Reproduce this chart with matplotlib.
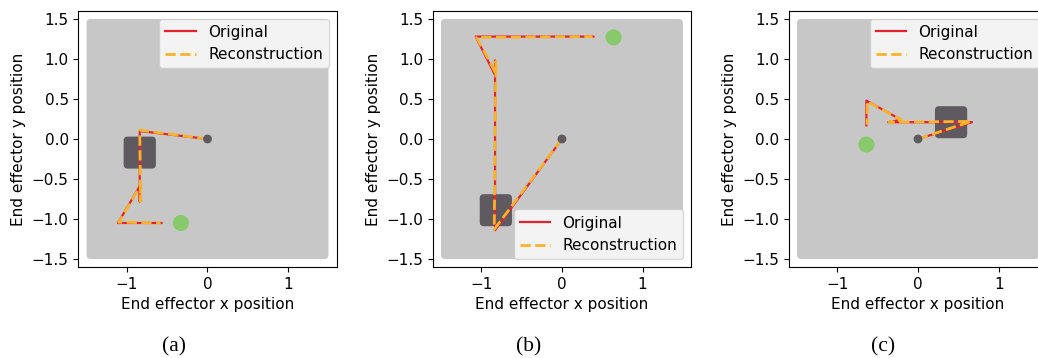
import matplotlib.pyplot as plt
from matplotlib.patches import FancyBboxPatch, Circle

# end effector paths (x, y) for the three episodes
orig_a_x = [0.0, -0.84, -0.84, -0.84, -1.11, -0.57]
orig_a_y = [0.0, 0.10, -0.78, -0.59, -1.05, -1.05]
recon_a_x = [0.0, -0.84, -0.83, -0.83, -1.10, -0.58]
recon_a_y = [0.0, 0.11, -0.78, -0.58, -1.04, -1.05]

orig_b_x = [0.0, -0.83, -0.83, -0.83, -1.07, 0.39]
orig_b_y = [0.0, -1.14, 0.98, 0.80, 1.28, 1.28]
recon_b_x = [0.0, -0.84, -0.82, -0.82, -1.06, 0.38]
recon_b_y = [0.0, -1.13, 0.97, 0.82, 1.27, 1.28]

orig_c_x = [0.0, 0.67, -0.37, -0.21, -0.64, -0.64]
orig_c_y = [0.0, 0.21, 0.21, 0.24, 0.48, 0.17]
recon_c_x = [0.0, 0.66, -0.36, -0.21, -0.63, -0.63]
recon_c_y = [0.0, 0.22, 0.21, 0.24, 0.47, 0.18]

# obstacle centres and goal positions
obstacles = [(-0.84, -0.17), (-0.82, -0.89), (0.41, 0.21)]
goals = [(-0.33, -1.05), (0.64, 1.27), (-0.64, -0.07)]
legend_locs = ["upper right", "lower right", "upper right"]
captions = ["(a)", "(b)", "(c)"]
caption_x = [0.168, 0.509, 0.851]

paths = [
    (orig_a_x, orig_a_y, recon_a_x, recon_a_y),
    (orig_b_x, orig_b_y, recon_b_x, recon_b_y),
    (orig_c_x, orig_c_y, recon_c_x, recon_c_y),
]

plt.rcParams["font.family"] = "DejaVu Sans"
plt.rcParams["font.size"] = 11

fig = plt.figure(figsize=(10.38, 3.58), dpi=100)
lefts = [0.0756, 0.4171, 0.7601]

for i in range(3):
    ax = fig.add_axes([lefts[i], 0.2542, 0.2486, 0.7151])
    ox, oy, rx, ry = paths[i]

    # workspace
    ax.add_patch(FancyBboxPatch((-1.5, -1.5), 3.0, 3.0,
                                boxstyle="round,pad=0,rounding_size=0.05",
                                facecolor="#c7c7c7", edgecolor="none", zorder=0))
    # obstacle
    cx, cy = obstacles[i]
    ax.add_patch(FancyBboxPatch((cx - 0.2, cy - 0.2), 0.4, 0.4,
                                boxstyle="round,pad=0,rounding_size=0.05",
                                facecolor="#5e5a5f", edgecolor="none", zorder=1))
    # goal
    ax.add_patch(Circle(goals[i], 0.1, facecolor="#88c96c", edgecolor="none", zorder=1))

    ax.plot(ox, oy, color="#e32230", linewidth=1.6, label="Original", zorder=3)
    ax.plot(rx, ry, color="#fdb22c", linewidth=2.0, linestyle="--",
            label="Reconstruction", zorder=4)

    # arm base
    ax.add_patch(Circle((0, 0), 0.055, facecolor="#5e5a5f", edgecolor="none", zorder=5))

    ax.set_xlim(-1.6, 1.6)
    ax.set_ylim(-1.6, 1.6)
    ax.set_xticks([-1, 0, 1])
    ax.set_yticks([-1.5, -1.0, -0.5, 0.0, 0.5, 1.0, 1.5])
    ax.set_xlabel("End effector x position")
    ax.set_ylabel("End effector y position")
    ax.legend(loc=legend_locs[i])

    fig.text(caption_x[i], 0.032, captions[i], ha="center", va="center",
             fontfamily="Liberation Serif", fontsize=15.5)

plt.savefig("out.png", dpi=100)
